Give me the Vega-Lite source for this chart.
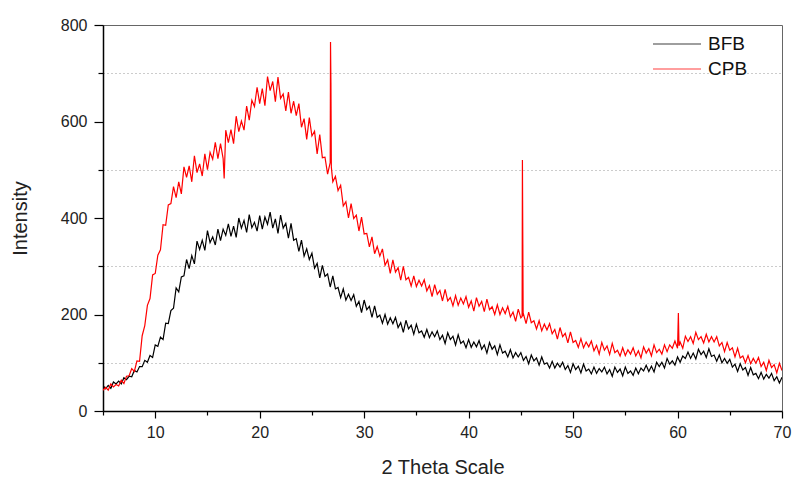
{
"$schema": "https://vega.github.io/schema/vega-lite/v6.json",
"width": 679, "height": 386,
"autosize": "none",
"padding": {"left": 103, "top": 25, "right": 10, "bottom": 66},
"background": "white",
"config": {"font": "Liberation Sans", "view": {"stroke": "#666", "strokeWidth": 1}},
"data": {"values": [
{"t":5.00,"BFB":53,"CPB":43},{"t":5.25,"BFB":46,"CPB":49},{"t":5.50,"BFB":53,"CPB":43},{"t":5.75,"BFB":47,"CPB":56},
{"t":6.00,"BFB":60,"CPB":50},{"t":6.25,"BFB":56,"CPB":55},{"t":6.50,"BFB":62,"CPB":52},{"t":6.75,"BFB":56,"CPB":64},
{"t":7.00,"BFB":69,"CPB":57},{"t":7.25,"BFB":65,"CPB":72},{"t":7.50,"BFB":72,"CPB":73},{"t":7.75,"BFB":71,"CPB":88},
{"t":8.00,"BFB":84,"CPB":82},{"t":8.25,"BFB":81,"CPB":104},{"t":8.50,"BFB":92,"CPB":103},{"t":8.75,"BFB":92,"CPB":156},
{"t":9.00,"BFB":105,"CPB":177},{"t":9.25,"BFB":101,"CPB":219},{"t":9.50,"BFB":115,"CPB":233},{"t":9.75,"BFB":111,"CPB":282},
{"t":10.00,"BFB":137,"CPB":285},{"t":10.25,"BFB":134,"CPB":323},{"t":10.50,"BFB":153,"CPB":334},{"t":10.75,"BFB":148,"CPB":386},
{"t":11.00,"BFB":182,"CPB":385},{"t":11.25,"BFB":181,"CPB":427},{"t":11.50,"BFB":208,"CPB":430},{"t":11.75,"BFB":213,"CPB":465},
{"t":12.00,"BFB":255,"CPB":442},{"t":12.25,"BFB":247,"CPB":475},{"t":12.50,"BFB":278,"CPB":450},{"t":12.75,"BFB":280,"CPB":506},
{"t":13.00,"BFB":314,"CPB":484},{"t":13.25,"BFB":295,"CPB":508},{"t":13.50,"BFB":322,"CPB":475},{"t":13.75,"BFB":305,"CPB":529},
{"t":14.00,"BFB":352,"CPB":494},{"t":14.25,"BFB":335,"CPB":512},{"t":14.50,"BFB":354,"CPB":487},{"t":14.75,"BFB":333,"CPB":533},
{"t":15.00,"BFB":374,"CPB":500},{"t":15.25,"BFB":349,"CPB":536},{"t":15.50,"BFB":361,"CPB":522},{"t":15.75,"BFB":344,"CPB":557},
{"t":16.00,"BFB":377,"CPB":523},{"t":16.25,"BFB":353,"CPB":554},{"t":16.50,"BFB":377,"CPB":523},{"t":16.60,"CPB":482},{"t":16.75,"BFB":364,"CPB":582},
{"t":17.00,"BFB":388,"CPB":556},{"t":17.25,"BFB":362,"CPB":583},{"t":17.50,"BFB":383,"CPB":554},{"t":17.75,"BFB":360,"CPB":611},
{"t":18.00,"BFB":400,"CPB":579},{"t":18.25,"BFB":379,"CPB":601},{"t":18.50,"BFB":395,"CPB":582},{"t":18.75,"BFB":370,"CPB":632},
{"t":19.00,"BFB":407,"CPB":603},{"t":19.25,"BFB":380,"CPB":644},{"t":19.50,"BFB":391,"CPB":631},{"t":19.75,"BFB":373,"CPB":671},
{"t":20.00,"BFB":405,"CPB":637},{"t":20.25,"BFB":377,"CPB":668},{"t":20.50,"BFB":402,"CPB":633},{"t":20.75,"BFB":387,"CPB":693},
{"t":21.00,"BFB":412,"CPB":664},{"t":21.25,"BFB":379,"CPB":683},{"t":21.50,"BFB":398,"CPB":641},{"t":21.75,"BFB":368,"CPB":692},
{"t":22.00,"BFB":406,"CPB":648},{"t":22.25,"BFB":379,"CPB":657},{"t":22.50,"BFB":389,"CPB":622},{"t":22.75,"BFB":358,"CPB":661},
{"t":23.00,"BFB":389,"CPB":617},{"t":23.25,"BFB":354,"CPB":642},{"t":23.50,"BFB":357,"CPB":612},{"t":23.75,"BFB":331,"CPB":637},
{"t":24.00,"BFB":354,"CPB":588},{"t":24.25,"BFB":321,"CPB":606},{"t":24.50,"BFB":336,"CPB":563},{"t":24.75,"BFB":314,"CPB":608},
{"t":25.00,"BFB":327,"CPB":570},{"t":25.25,"BFB":296,"CPB":580},{"t":25.50,"BFB":306,"CPB":533},{"t":25.75,"BFB":276,"CPB":573},
{"t":26.00,"BFB":302,"CPB":525},{"t":26.25,"BFB":279,"CPB":526},{"t":26.50,"BFB":284,"CPB":491},{"t":26.75,"BFB":257,"CPB":515},
{"t":26.78,"CPB":765},{"t":26.82,"CPB":680},{"t":26.86,"CPB":505},
{"t":27.00,"BFB":280,"CPB":475},{"t":27.25,"BFB":253,"CPB":486},{"t":27.50,"BFB":256,"CPB":457},{"t":27.75,"BFB":235,"CPB":468},
{"t":28.00,"BFB":253,"CPB":425},{"t":28.25,"BFB":230,"CPB":434},{"t":28.50,"BFB":242,"CPB":400},{"t":28.75,"BFB":229,"CPB":430},
{"t":29.00,"BFB":241,"CPB":399},{"t":29.25,"BFB":217,"CPB":406},{"t":29.50,"BFB":227,"CPB":373},{"t":29.75,"BFB":204,"CPB":402},
{"t":30.00,"BFB":230,"CPB":367},{"t":30.25,"BFB":210,"CPB":368},{"t":30.50,"BFB":217,"CPB":340},{"t":30.75,"BFB":194,"CPB":361},
{"t":31.00,"BFB":218,"CPB":326},{"t":31.25,"BFB":194,"CPB":341},{"t":31.50,"BFB":199,"CPB":321},{"t":31.75,"BFB":182,"CPB":336},
{"t":32.00,"BFB":200,"CPB":302},{"t":32.25,"BFB":180,"CPB":313},{"t":32.50,"BFB":193,"CPB":285},{"t":32.75,"BFB":181,"CPB":313},
{"t":33.00,"BFB":194,"CPB":288},{"t":33.25,"BFB":173,"CPB":297},{"t":33.50,"BFB":183,"CPB":271},{"t":33.75,"BFB":163,"CPB":300},
{"t":34.00,"BFB":188,"CPB":272},{"t":34.25,"BFB":170,"CPB":277},{"t":34.50,"BFB":178,"CPB":259},{"t":34.75,"BFB":159,"CPB":280},
{"t":35.00,"BFB":180,"CPB":258},{"t":35.25,"BFB":162,"CPB":271},{"t":35.50,"BFB":166,"CPB":259},{"t":35.75,"BFB":153,"CPB":272},
{"t":36.00,"BFB":169,"CPB":249},{"t":36.25,"BFB":152,"CPB":260},{"t":36.50,"BFB":164,"CPB":237},{"t":36.75,"BFB":154,"CPB":262},
{"t":37.00,"BFB":166,"CPB":242},{"t":37.25,"BFB":148,"CPB":250},{"t":37.50,"BFB":157,"CPB":228},{"t":37.75,"BFB":140,"CPB":252},
{"t":38.00,"BFB":162,"CPB":228},{"t":38.25,"BFB":148,"CPB":235},{"t":38.50,"BFB":155,"CPB":218},{"t":38.75,"BFB":137,"CPB":239},
{"t":39.00,"BFB":158,"CPB":219},{"t":39.25,"BFB":140,"CPB":234},{"t":39.50,"BFB":145,"CPB":222},{"t":39.75,"BFB":131,"CPB":237},
{"t":40.00,"BFB":148,"CPB":215},{"t":40.25,"BFB":132,"CPB":228},{"t":40.50,"BFB":143,"CPB":207},{"t":40.75,"BFB":133,"CPB":235},
{"t":41.00,"BFB":146,"CPB":217},{"t":41.25,"BFB":128,"CPB":227},{"t":41.50,"BFB":137,"CPB":206},{"t":41.75,"BFB":120,"CPB":232},
{"t":42.00,"BFB":142,"CPB":210},{"t":42.25,"BFB":128,"CPB":216},{"t":42.50,"BFB":135,"CPB":200},{"t":42.75,"BFB":117,"CPB":220},
{"t":43.00,"BFB":137,"CPB":200},{"t":43.25,"BFB":120,"CPB":214},{"t":43.50,"BFB":124,"CPB":202},{"t":43.75,"BFB":112,"CPB":217},
{"t":44.00,"BFB":127,"CPB":195},{"t":44.25,"BFB":110,"CPB":205},{"t":44.50,"BFB":121,"CPB":186},{"t":44.75,"BFB":112,"CPB":211},
{"t":45.00,"BFB":121,"CPB":193},{"t":45.12,"CPB":196},{"t":45.15,"CPB":520},{"t":45.19,"CPB":345},{"t":45.22,"CPB":200},
{"t":45.25,"BFB":105,"CPB":201},{"t":45.50,"BFB":113,"CPB":181},{"t":45.75,"BFB":98,"CPB":205},
{"t":46.00,"BFB":116,"CPB":183},{"t":46.25,"BFB":104,"CPB":187},{"t":46.50,"BFB":110,"CPB":170},{"t":46.75,"BFB":95,"CPB":187},
{"t":47.00,"BFB":112,"CPB":166},{"t":47.25,"BFB":97,"CPB":180},{"t":47.50,"BFB":100,"CPB":168},{"t":47.75,"BFB":89,"CPB":181},
{"t":48.00,"BFB":103,"CPB":160},{"t":48.25,"BFB":89,"CPB":169},{"t":48.50,"BFB":99,"CPB":149},{"t":48.75,"BFB":91,"CPB":173},
{"t":49.00,"BFB":101,"CPB":154},{"t":49.25,"BFB":86,"CPB":161},{"t":49.50,"BFB":94,"CPB":141},{"t":49.75,"BFB":80,"CPB":164},
{"t":50.00,"BFB":98,"CPB":142},{"t":50.25,"BFB":86,"CPB":146},{"t":50.50,"BFB":93,"CPB":132},{"t":50.75,"BFB":79,"CPB":150},
{"t":51.00,"BFB":97,"CPB":131},{"t":51.25,"BFB":83,"CPB":143},{"t":51.50,"BFB":87,"CPB":133},{"t":51.75,"BFB":77,"CPB":145},
{"t":52.00,"BFB":91,"CPB":125},{"t":52.25,"BFB":78,"CPB":136},{"t":52.50,"BFB":88,"CPB":118},{"t":52.75,"BFB":81,"CPB":142},
{"t":53.00,"BFB":91,"CPB":126},{"t":53.25,"BFB":77,"CPB":135},{"t":53.50,"BFB":86,"CPB":117},{"t":53.75,"BFB":72,"CPB":140},
{"t":54.00,"BFB":91,"CPB":121},{"t":54.25,"BFB":80,"CPB":126},{"t":54.50,"BFB":87,"CPB":114},{"t":54.75,"BFB":73,"CPB":131},
{"t":55.00,"BFB":91,"CPB":115},{"t":55.25,"BFB":78,"CPB":127},{"t":55.50,"BFB":83,"CPB":118},{"t":55.75,"BFB":74,"CPB":131},
{"t":56.00,"BFB":89,"CPB":114},{"t":56.25,"BFB":77,"CPB":125},{"t":56.50,"BFB":89,"CPB":110},{"t":56.75,"BFB":83,"CPB":133},
{"t":57.00,"BFB":95,"CPB":120},{"t":57.25,"BFB":82,"CPB":129},{"t":57.50,"BFB":93,"CPB":114},{"t":57.75,"BFB":81,"CPB":137},
{"t":58.00,"BFB":101,"CPB":121},{"t":58.25,"BFB":92,"CPB":128},{"t":58.50,"BFB":101,"CPB":118},{"t":58.75,"BFB":89,"CPB":137},
{"t":59.00,"BFB":109,"CPB":123},{"t":59.25,"BFB":97,"CPB":137},{"t":59.50,"BFB":104,"CPB":130},{"t":59.75,"BFB":95,"CPB":145},
{"t":60.00,"BFB":112,"CPB":130},{"t":60.08,"CPB":203},{"t":60.14,"CPB":135},
{"t":60.25,"BFB":101,"CPB":143},{"t":60.50,"BFB":114,"CPB":130},{"t":60.75,"BFB":109,"CPB":155},
{"t":61.00,"BFB":122,"CPB":144},{"t":61.25,"BFB":109,"CPB":154},{"t":61.50,"BFB":120,"CPB":140},{"t":61.75,"BFB":108,"CPB":163},
{"t":62.00,"BFB":128,"CPB":148},{"t":62.25,"BFB":117,"CPB":154},{"t":62.50,"BFB":124,"CPB":141},{"t":62.75,"BFB":111,"CPB":159},
{"t":63.00,"BFB":129,"CPB":143},{"t":63.25,"BFB":113,"CPB":154},{"t":63.50,"BFB":116,"CPB":143},{"t":63.75,"BFB":103,"CPB":154},
{"t":64.00,"BFB":116,"CPB":135},{"t":64.25,"BFB":100,"CPB":142},{"t":64.50,"BFB":109,"CPB":123},{"t":64.75,"BFB":99,"CPB":142},
{"t":65.00,"BFB":107,"CPB":126},{"t":65.25,"BFB":91,"CPB":131},{"t":65.50,"BFB":97,"CPB":112},{"t":65.75,"BFB":82,"CPB":130},
{"t":66.00,"BFB":98,"CPB":110},{"t":66.25,"BFB":85,"CPB":114},{"t":66.50,"BFB":90,"CPB":100},{"t":66.75,"BFB":74,"CPB":115},
{"t":67.00,"BFB":90,"CPB":98},{"t":67.25,"BFB":75,"CPB":109},{"t":67.50,"BFB":78,"CPB":99},{"t":67.75,"BFB":67,"CPB":111},
{"t":68.00,"BFB":80,"CPB":92},{"t":68.25,"BFB":66,"CPB":101},{"t":68.50,"BFB":76,"CPB":84},{"t":68.75,"BFB":68,"CPB":105},
{"t":69.00,"BFB":78,"CPB":90},{"t":69.25,"BFB":63,"CPB":96},{"t":69.50,"BFB":71,"CPB":79},{"t":69.75,"BFB":58,"CPB":99},
{"t":70.00,"BFB":70,"CPB":84}
]},
"transform": [
  {"fold": ["BFB", "CPB"], "as": ["series", "intensity"]},
  {"filter": "isValid(datum.intensity)"}
],
"mark": {"type": "line", "strokeWidth": 1.2, "clip": true},
"encoding": {
  "x": {"field": "t", "type": "quantitative",
    "scale": {"domain": [5, 70], "nice": false, "zero": false},
    "axis": {"title": "2 Theta Scale", "values": [5,10,15,20,25,30,35,40,45,50,55,60,65,70],
      "labelExpr": "datum.value % 10 == 0 ? datum.label : ''", "labelOverlap": false, "labelFlush": false,
      "grid": false, "domainColor": "#000", "domainWidth": 1.5, "tickColor": "#000", "tickWidth": 1.2,
      "tickSize": {"condition": {"test": "datum.value % 10 == 0", "value": 7}, "value": 4},
      "labelFontSize": 16, "labelColor": "#222", "labelPadding": 6,
      "titleFontSize": 20, "titleFontWeight": "normal", "titleColor": "#222", "titlePadding": 17}},
  "y": {"field": "intensity", "type": "quantitative",
    "scale": {"domain": [0, 800], "nice": false},
    "axis": {"title": "Intensity", "values": [0,100,200,300,400,500,600,700,800],
      "labelExpr": "datum.value % 200 == 0 ? datum.label : ''", "labelOverlap": false, "labelFlush": false,
      "grid": true, "gridColor": "#999", "gridDash": [1, 3], "gridWidth": 1,
      "gridOpacity": {"condition": {"test": "datum.value % 200 == 0", "value": 0}, "value": 1},
      "domainColor": "#000", "domainWidth": 1.5, "tickColor": "#000", "tickWidth": 1.2,
      "tickSize": {"condition": {"test": "datum.value % 200 == 0", "value": 9}, "value": 5},
      "labelFontSize": 16, "labelColor": "#222", "labelPadding": 7,
      "titleFontSize": 20, "titleFontWeight": "normal", "titleColor": "#222", "titlePadding": 30}},
  "color": {"field": "series", "type": "nominal",
    "scale": {"domain": ["BFB", "CPB"], "range": ["#000000", "#ff0000"]},
    "legend": {"orient": "none", "legendX": 561, "legendY": 6, "title": null,
      "symbolType": "M-2,0H2", "symbolSize": 576, "symbolStrokeWidth": 1.5, "symbolOpacity": 0.5,
      "labelFontSize": 19, "labelOffset": 18, "rowPadding": 2, "padding": 0, "labelColor": "#111"}}
}
}
